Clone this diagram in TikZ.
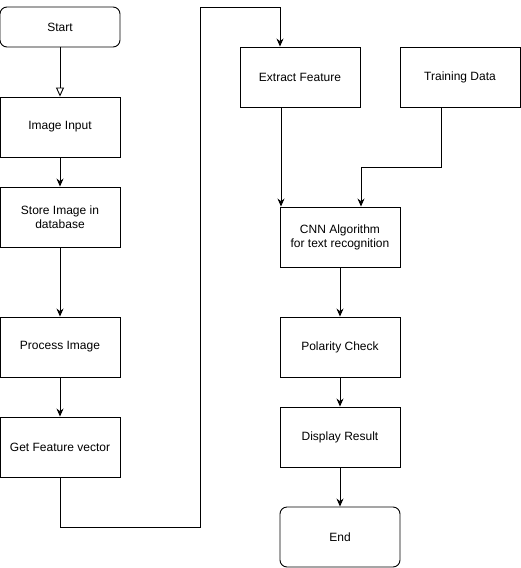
\documentclass[tikz,border=0pt]{standalone}
\usepackage{fontspec}
\setmainfont{Liberation Sans}
\usetikzlibrary{arrows.meta}
\begin{document}
\begin{tikzpicture}[x=1pt,y=-1pt,
    box/.style={draw, line width=0.9pt, minimum width=120pt, minimum height=60pt,
        align=center, inner sep=0pt, font=\fontsize{12}{14}\selectfont},
    term/.style={box, rounded corners=7pt},
    flow/.style={line width=0.9pt, -{Stealth[length=8pt,width=7pt]}},
    openflow/.style={line width=0.9pt, -{Triangle[open,length=9pt,width=8pt]}}]

    \useasboundingbox (0,0) rectangle (521,568);

    % left column
    \node[term, minimum height=40pt] (start) at (60,27) {Start};
    \node[box] (input) at (60,127) {Image Input};
    \node[box] (store) at (60,217) {Store Image in\\database};
    \node[box] (process) at (60,347) {Process Image};
    \node[box] (getvec) at (60,447) {Get Feature vector};

    % right column
    \node[box] (extract) at (300,77) {Extract Feature};
    \node[box] (train) at (460,77) {Training Data};
    \node[box] (cnn) at (340,237) {CNN Algorithm\\for text recognition};
    \node[box] (polar) at (340,347) {Polarity Check};
    \node[box] (display) at (340,437) {Display Result};
    \node[term] (end) at (340,537) {End};

    \draw[openflow] (start) -- (input);
    \draw[flow] (input) -- (store);
    \draw[flow] (store) -- (process);
    \draw[flow] (process) -- (getvec);

    \draw[flow] (getvec.south) -- ++(0,50) -- ++(140,0) -- ++(0,-520)
        -| ([xshift=-20pt]extract.north);

    \draw[flow] ([xshift=-19pt]extract.south) -- ([xshift=-19pt]extract.south |- cnn.north);
    \draw[flow] ([xshift=-19pt]train.south) -- ++(0,60) -| ([xshift=21pt]cnn.north);

    \draw[flow] (cnn) -- (polar);
    \draw[flow] (polar) -- (display);
    \draw[flow] (display) -- (end);

\end{tikzpicture}
\end{document}
